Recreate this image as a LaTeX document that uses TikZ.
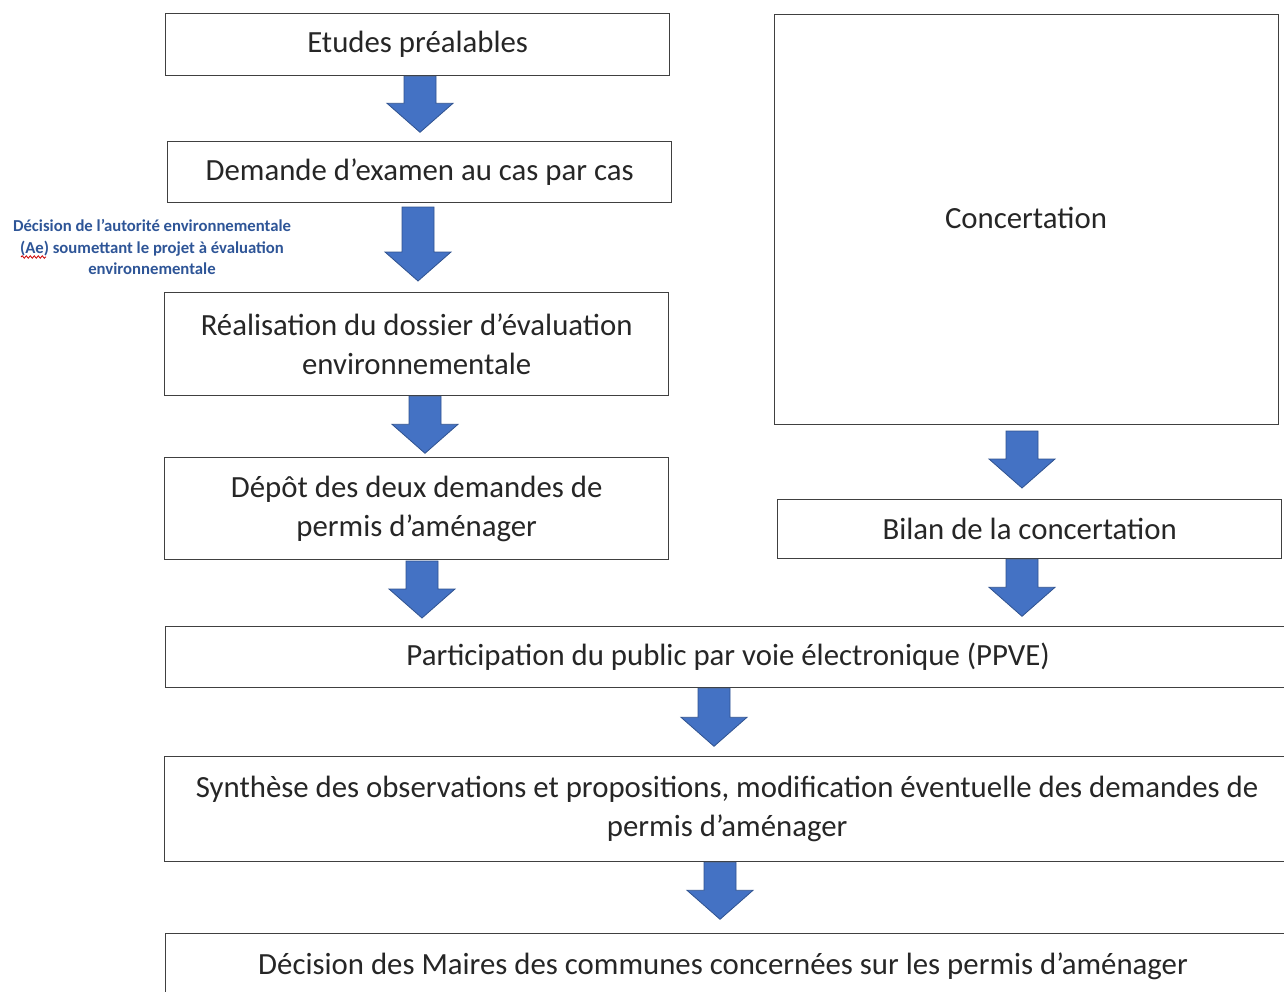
\documentclass[tikz,border=0pt]{standalone}
\usepackage{fontspec}
\setmainfont{Carlito}
\usetikzlibrary{calc,decorations.pathmorphing}
\definecolor{arrowfill}{HTML}{4472C4}
\definecolor{arrowdraw}{HTML}{2F528F}
\definecolor{boxline}{HTML}{404040}
\definecolor{txt}{HTML}{262626}
\definecolor{notecol}{HTML}{2E5597}
\tikzset{
  box/.style={draw=boxline, line width=1.3pt, rectangle, anchor=north west, inner sep=0pt,
    align=center, text=txt, font=\fontsize{30.8}{39}\selectfont},
  barrow/.style={fill=arrowfill, draw=arrowdraw, line width=0.8pt,
    to path={let \p1=(\tikztostart), \p2=(\tikztotarget) in
      (\x1-16pt,\y1) -- (\x1+16pt,\y1) -- (\x1+16pt,\y2+29pt) -- (\x1+33pt,\y2+29pt)
      -- (\x1,\y2) -- (\x1-33pt,\y2+29pt) -- (\x1-16pt,\y2+29pt) -- cycle}},
  note/.style={text=notecol, align=center, font=\fontsize{16.7}{21.5}\selectfont\bfseries}
}
\begin{document}
\begin{tikzpicture}[x=1pt,y=-1pt]
\useasboundingbox (0,0) rectangle (1284,991);
\node[box, minimum width=504, minimum height=62] (e1) at (165,13) {Etudes préalables};
\node[box, minimum width=504, minimum height=61] (e2) at (167,141) {Demande d’examen au cas par cas};
\node[box, minimum width=504, minimum height=103] (e3) at (164,292) {Réalisation du dossier d’évaluation\\environnementale};
\node[box, minimum width=504, minimum height=102] (e4) at (164,457) {Dépôt des deux demandes de\\permis d’aménager};
\node[box, minimum width=504, minimum height=410] (c1) at (774,14) {};
\node[text=txt, font=\fontsize{30.8}{39}\selectfont] (c1t) at (1026,218) {Concertation};
\node[box, minimum width=504, minimum height=59] (c2) at (777,499) {Bilan de la concertation};
\node[box, minimum width=1125, minimum height=61] (p1) at (165,626) {Participation du public par voie électronique (PPVE)};
\node[box, minimum width=1125, minimum height=105] (p2) at (164,756) {Synthèse des observations et propositions, modification éventuelle des demandes de\\permis d’aménager};
\node[box, minimum width=1125, minimum height=80, text depth=0pt, inner sep=0pt] (p3) at (165,933) {};
\node[text=txt, font=\fontsize{30.8}{39}\selectfont, anchor=base] (p3t) at (723,974) {Décision des Maires des communes concernées sur les permis d’aménager};
\node[note] (n1) at (152,247) {Décision de l’autorité environnementale\\(Ae) soumettant le projet à évaluation\\environnementale};
\draw[red!80!black, line width=0.8pt, decorate, decoration={snake, amplitude=1.2pt, segment length=4pt}] (21,257) -- (46,257);
\path[barrow] (e1.south -| 420,0) to ++(0,56);
\path[barrow] (418,207) to (418,281);
\path[barrow] (e3.south -| 425,0) to ++(0,57);
\path[barrow] (422,561) to (422,618);
\path[barrow] (1022,431) to (1022,488);
\path[barrow] (c2.south -| 1022,0) to ++(0,57);
\path[barrow] (p1.south -| 714,0) to ++(0,58);
\path[barrow] (p2.south -| 720,0) to ++(0,57);
\end{tikzpicture}
\end{document}
